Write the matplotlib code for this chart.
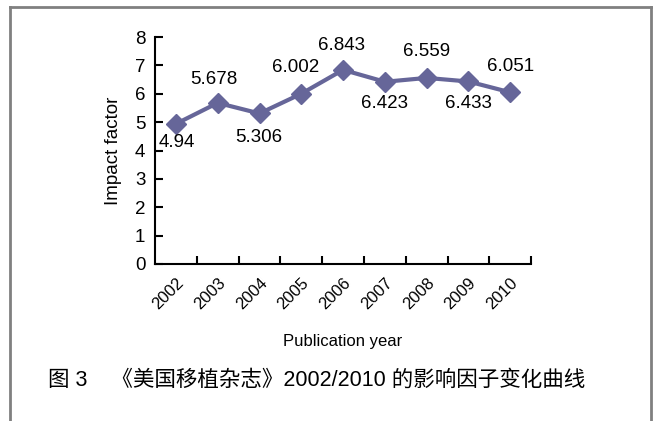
import matplotlib
matplotlib.use("Agg")
import matplotlib.pyplot as plt
from matplotlib.lines import Line2D
import numpy as np

years = ["2002", "2003", "2004", "2005", "2006", "2007", "2008", "2009", "2010"]
impact = [4.94, 5.678, 5.306, 6.002, 6.843, 6.423, 6.559, 6.433, 6.051]
labels = ["4.94", "5.678", "5.306", "6.002", "6.843", "6.423", "6.559", "6.433", "6.051"]
# label placement relative to point, in pixels: (dx, dy)
offsets = [(1, -19), (-4, 23), (-1, -24), (-6, 26), (-2, 24), (0, -22), (0, 26), (0, -22), (0, 26)]

plt.rcParams["font.family"] = ["Liberation Sans", "Noto Sans CJK SC"]
line_color = "#666699"

fig = plt.figure(figsize=(6.53, 4.21), dpi=100)
ax = fig.add_axes([0.2374, 0.373, 0.576, 0.539])

x = np.arange(len(years))
ax.plot(x, impact, color=line_color, lw=3, marker="D", markersize=10.5,
        markerfacecolor=line_color, markeredgecolor=line_color)
for xi, yi, lab, (dx, dy) in zip(x, impact, labels, offsets):
    ax.annotate(lab, (xi, yi), xytext=(dx * 0.72, dy * 0.72), textcoords="offset points",
                ha="center", va="center", fontsize=13.5)

ax.set_xlim(-0.5, len(years) - 0.5)
ax.set_ylim(0, 8)
ax.set_yticks(range(0, 9))
ax.tick_params(axis="y", direction="in", length=6, width=1.5, labelsize=13.5, pad=7)
ax.set_xticks(x)
ax.set_xticklabels(years, rotation=45, ha="right", rotation_mode="anchor", fontsize=12)
ax.tick_params(axis="x", which="major", length=0, pad=8)
ax.set_xticks(np.arange(0.5, len(years), 1.0), minor=True)
ax.tick_params(axis="x", which="minor", direction="in", length=6, width=1.5)

for side in ["top", "right"]:
    ax.spines[side].set_visible(False)
for side in ["left", "bottom"]:
    ax.spines[side].set_linewidth(1.5)

ax.set_xlabel("Publication year", fontsize=12, labelpad=16)
ax.set_ylabel("Impact factor", fontsize=13.5, labelpad=9)

fig.text(0.073, 0.097, "图 3    《美国移植杂志》2002/2010 的影响因子变化曲线",
         fontsize=15.5, ha="left", va="center")

# outer frame
frame_kw = dict(color="#808080", lw=2, transform=fig.transFigure)
fig.add_artist(Line2D([0.016, 0.016], [0.0, 0.984], **frame_kw))
fig.add_artist(Line2D([0.016, 0.997], [0.984, 0.984], **frame_kw))
fig.add_artist(Line2D([0.997, 0.997], [0.0, 0.984], **frame_kw))

fig.savefig("out.png", dpi=100)
